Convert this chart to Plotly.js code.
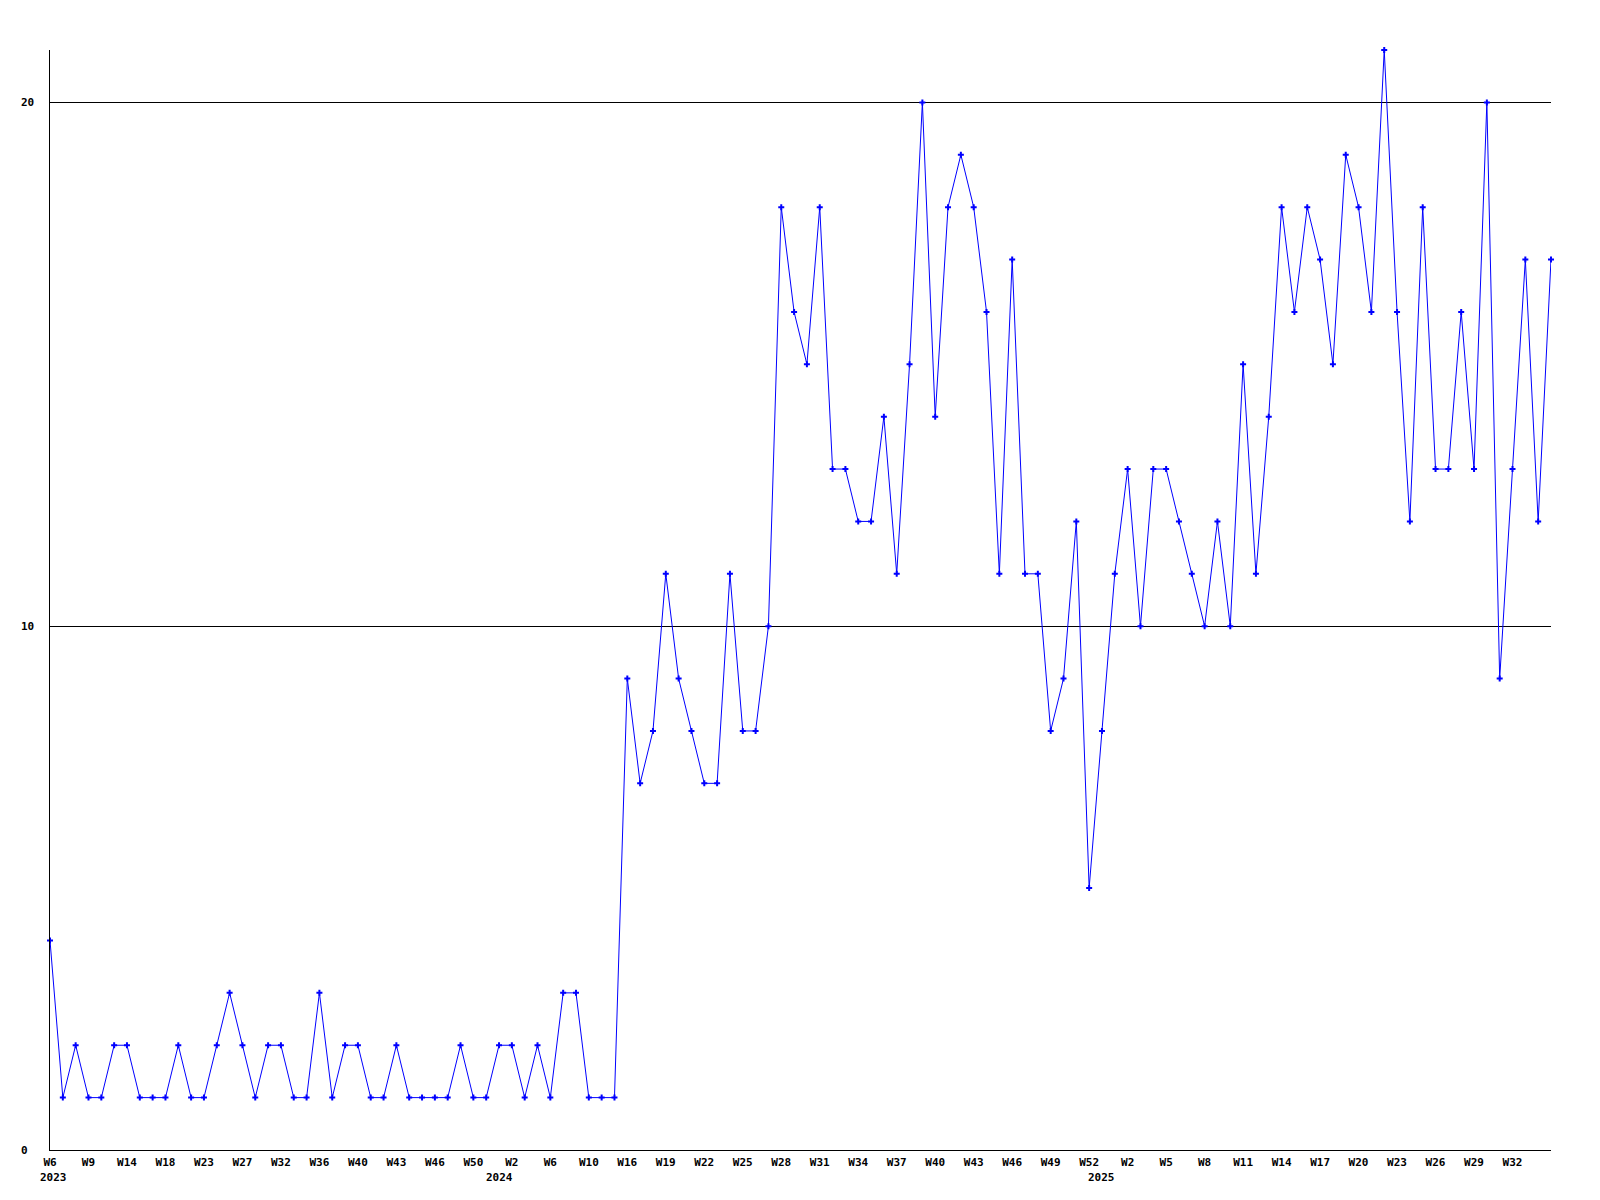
<!DOCTYPE html>
<html>
<head>
<meta charset="utf-8">
<script src="https://cdn.plot.ly/plotly-3.0.1.min.js"></script>
<style>
  html, body { margin: 0; padding: 0; background: #ffffff; }
  #chart { width: 1600px; height: 1200px; }
</style>
</head>
<body>
<div id="chart"></div>
<script>
// Weekly counts, one per data point (118 points, 2023 W6 .. 2025 W35)
const counts = [
  4,1,2,1,1,2,2,1,1,1,2,1,1,2,3,2,1,2,2,1,1,3,1,2,2,1,1,2,1,1,1,1,2,1,1,2,2,1,2,1,3,3,1,1,1,
  9,7,8,11,9,8,7,7,11,8,8,10,18,16,15,18,13,13,12,12,14,11,15,20,14,18,19,18,16,11,17,11,11,8,9,12,5,8,11,13,
  10,13,13,12,11,10,12,10,15,11,14,18,16,18,17,15,19,18,16,21,16,12,18,13,13,16,13,20,9,13,17,12,17
];

// Week tick labels (one every third data point)
const weekLabels = [
  'W6','W9','W14','W18','W23','W27','W32','W36','W40','W43','W46','W50',
  'W2','W6','W10','W16','W19','W22','W25','W28','W31','W34','W37','W40','W43','W46','W49','W52',
  'W2','W5','W8','W11','W14','W17','W20','W23','W26','W29','W32'
];
const labelStep = 3;

// Year labels and the data-point index where each year begins
const yearLabels = ['2023', '2024', '2025'];
const yearStartIndex = [0, 35, 82];

// Y axis ticks
const yTicks = [0, 10, 20];
const yMax = 21;

const xIdx = counts.map((_, i) => i);
const tickVals = weekLabels.map((_, i) => i * labelStep);

const FONT = { family: 'DejaVu Sans Mono, Liberation Mono, monospace', size: 11, color: '#000000', weight: 'bold' };

const annotations = [];
yearLabels.forEach((t, i) => {
  annotations.push({
    text: t, xref: 'x', yref: 'paper', x: yearStartIndex[i], y: 0,
    xanchor: 'center', yanchor: 'top', yshift: -19, xshift: i === 0 ? 3 : 0,
    showarrow: false, font: FONT
  });
});
yTicks.forEach(v => {
  annotations.push({
    text: String(v), xref: 'paper', yref: 'y', x: 0, y: v,
    xanchor: 'left', yanchor: 'middle', xshift: -31, showarrow: false, font: FONT
  });
});

const trace = {
  type: 'scatter',
  mode: 'lines+markers',
  x: xIdx,
  y: counts,
  line: { color: '#0000ff', width: 1 },
  marker: { symbol: 'cross', size: 5, color: '#0000ff' },
  cliponaxis: false,
  hoverinfo: 'skip'
};

const layout = {
  width: 1600,
  height: 1200,
  margin: { l: 50, r: 49, t: 50, b: 50 },
  paper_bgcolor: '#ffffff',
  plot_bgcolor: '#ffffff',
  showlegend: false,
  font: FONT,
  xaxis: {
    range: [0, counts.length - 1],
    tickmode: 'array',
    tickvals: tickVals,
    ticktext: weekLabels,
    ticks: '',
    ticklabelstandoff: 2,
    showgrid: false,
    zeroline: false,
    showline: true,
    linecolor: '#000000',
    linewidth: 1,
    tickfont: FONT,
    fixedrange: true
  },
  yaxis: {
    range: [0, yMax],
    tickmode: 'array',
    tickvals: yTicks,
    showticklabels: false,
    ticks: '',
    showgrid: true,
    gridcolor: '#000000',
    gridwidth: 1,
    zeroline: false,
    showline: true,
    linecolor: '#000000',
    linewidth: 1,
    fixedrange: true
  },
  annotations: annotations
};

Plotly.newPlot('chart', [trace], layout, { displayModeBar: false, staticPlot: true });
</script>
</body>
</html>
